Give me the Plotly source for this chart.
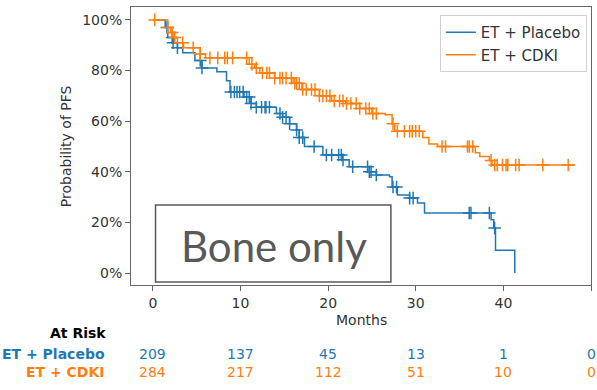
import numpy as np
import plotly.graph_objects as go

# Kaplan-Meier step data (months, survival fraction after each event)
placebo_t = [0, 1.4, 1.7, 2.3, 2.8, 3.4, 4.8, 5.6, 7.3, 8.4, 8.8, 10.4, 11.2, 11.8,
             14.1, 14.8, 15.6, 16.4, 16.7, 17.3, 19.4, 21.6, 22.4, 24.7, 25.5, 27.0,
             27.3, 27.9, 29.3, 30.2, 31.0, 38.6, 38.9, 39.1, 41.3]
placebo_s = [1.00, 0.97, 0.93, 0.91, 0.89, 0.87, 0.84, 0.81, 0.795, 0.76, 0.715, 0.695,
             0.67, 0.655, 0.63, 0.615, 0.59, 0.565, 0.535, 0.50, 0.466, 0.447, 0.42,
             0.40, 0.387, 0.38, 0.34, 0.308, 0.296, 0.277, 0.237, 0.21, 0.178, 0.09, 0.0]
placebo_censor = [1.6, 2.2, 2.3, 2.8, 5.4, 5.6, 8.9, 9.3, 9.6, 9.9, 10.3, 10.7, 11.0,
                  11.2, 11.8, 12.4, 12.8, 12.9, 13.3, 14.5, 14.8, 15.2, 15.6, 16.4,
                  16.7, 17.1, 18.4, 19.8, 20.4, 21.2, 21.5, 21.7, 22.8, 24.5, 24.7,
                  24.9, 25.5, 27.4, 27.8, 29.3, 29.7, 36.1, 36.3, 38.4, 39.0]

cdki_t = [0, 1.7, 2.0, 2.4, 2.8, 3.5, 5.4, 6.0, 11.0, 11.6, 12.2, 13.9, 16.0, 17.0,
          19.0, 20.4, 22.0, 23.6, 25.0, 26.5, 27.3, 27.6, 30.8, 31.5, 32.5, 36.8,
          37.3, 38.4, 38.7, 48.2]
cdki_s = [1.00, 0.97, 0.95, 0.93, 0.91, 0.89, 0.865, 0.85, 0.825, 0.81, 0.79, 0.77,
          0.75, 0.725, 0.70, 0.68, 0.67, 0.65, 0.63, 0.625, 0.59, 0.56, 0.535, 0.51,
          0.50, 0.475, 0.46, 0.445, 0.427, 0.427]
cdki_censor = [0.2, 1.7, 2.2, 2.5, 3.4, 4.6, 5.4, 6.5, 7.4, 8.2, 8.5, 9.1, 10.7, 11.3,
               11.8, 12.5, 13.0, 13.3, 13.9, 14.5, 14.8, 15.2, 15.8, 16.2, 16.4, 16.7,
               17.1, 17.5, 18.1, 18.5, 19.0, 19.4, 19.8, 20.2, 20.7, 21.3, 21.7, 22.1,
               22.6, 23.2, 23.6, 24.3, 24.7, 25.1, 25.5, 27.4, 27.9, 28.7, 29.3, 29.6,
               30.0, 30.4, 33.0, 33.4, 35.9, 36.1, 36.5, 38.6, 39.0, 39.3, 39.9, 40.3,
               40.5, 41.4, 41.8, 44.5, 47.4]

# Numbers at risk
risk_months = [0, 10, 20, 30, 40, 50]
placebo_risk = [209, 137, 45, 13, 1, 0]
cdki_risk = [284, 217, 112, 51, 10, 0]

BLUE = "#1f77b4"
ORANGE = "#ff7f0e"
FONT = "DejaVu Sans"
TEXT = "#333333"


def step_value(times, surv, at):
    idx = np.searchsorted(np.asarray(times), np.asarray(at), side="right") - 1
    return np.asarray(surv)[idx]


fig = go.Figure()
for name, t, s, cens, col in [
    ("ET + Placebo", placebo_t, placebo_s, placebo_censor, BLUE),
    ("ET + CDKI", cdki_t, cdki_s, cdki_censor, ORANGE),
]:
    fig.add_trace(go.Scatter(x=t, y=s, mode="lines", name=name,
                             line=dict(color=col, width=1.5, shape="hv")))
    fig.add_trace(go.Scatter(x=cens, y=step_value(t, s, cens), mode="markers",
                             showlegend=False, hoverinfo="skip",
                             marker=dict(symbol="cross-thin", size=9,
                                         line=dict(color=col, width=1.5))))

axis_common = dict(showline=True, linecolor="#666666", linewidth=1, mirror=True,
                   ticks="outside", ticklen=5, tickcolor="#666666", showgrid=False,
                   zeroline=False, tickfont=dict(family=FONT, size=14, color=TEXT))

fig.update_xaxes(range=[-2.5, 50.0], tickvals=risk_months, **axis_common)
fig.update_yaxes(range=[-0.0474, 1.051], tickvals=[0, 0.2, 0.4, 0.6, 0.8, 1.0],
                 tickformat=".0%", **axis_common)


def label(text, x, y, size=14, color=TEXT, xref="paper", xanchor="center",
          family=FONT, angle=0):
    return dict(text=text, x=x, y=y, xref=xref, yref="paper", xanchor=xanchor,
                yanchor="middle", textangle=angle, showarrow=False,
                font=dict(family=family, size=size, color=color))


annotations = [
    label("Months", 0.5, -0.125),
    label("Probability of PFS", -0.141, 0.5, angle=-90),
    label("<b>At Risk</b>", -0.05, -0.173, color="black", xanchor="right"),
    label("<b>ET + Placebo</b>", -0.052, -0.247, color=BLUE, xanchor="right"),
    label("<b>ET + CDKI</b>", -0.052, -0.313, color=ORANGE, xanchor="right"),
    label("Bone only", 0.31, 0.14, size=42, color="#595959", family="Lato"),
]
for m, a, b in zip(risk_months, placebo_risk, cdki_risk):
    annotations.append(label(str(a), m, -0.247, color=BLUE, xref="x"))
    annotations.append(label(str(b), m, -0.313, color=ORANGE, xref="x"))

fig.update_layout(
    width=597, height=390,
    margin=dict(l=131, r=6, t=7, b=105),
    paper_bgcolor="white", plot_bgcolor="white",
    annotations=annotations,
    shapes=[dict(type="rect", xref="paper", yref="paper", x0=0.0533, x1=0.565,
                 y0=0.0108, y1=0.2878, line=dict(color="#595959", width=1.5))],
    legend=dict(x=0.991, y=0.971, xanchor="right", yanchor="top",
                bgcolor="rgba(255,255,255,0.8)", bordercolor="#d0d0d0", borderwidth=1,
                itemwidth=30, font=dict(family=FONT, size=15, color=TEXT)),
    showlegend=True,
)

fig.write_html("out.html")
